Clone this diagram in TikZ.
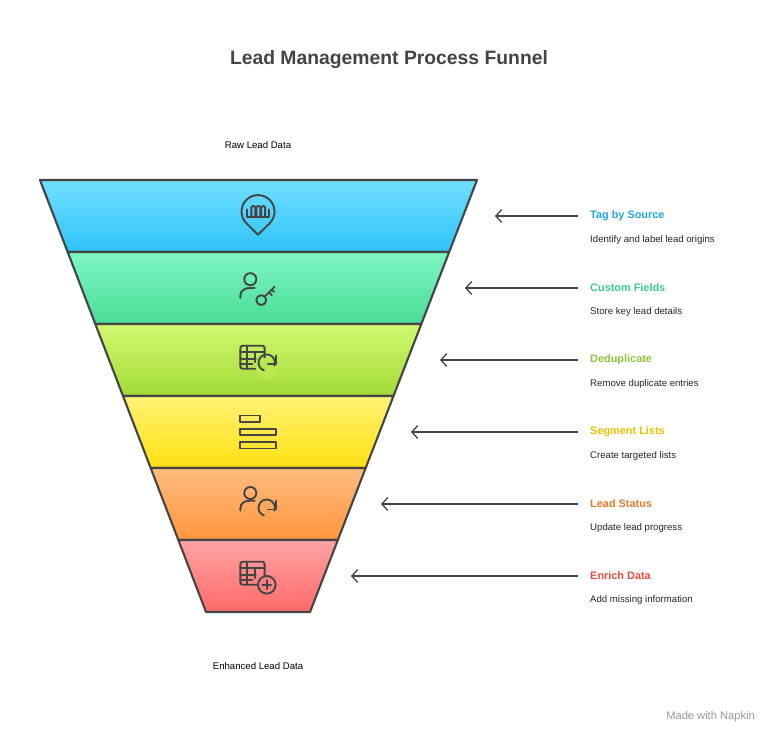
\documentclass[tikz,border=0pt]{standalone}
\usepackage{fontspec}
\setmainfont{Liberation Sans}
\usetikzlibrary{arrows.meta}
\definecolor{ink}{HTML}{444444}
\definecolor{aT}{HTML}{72DEFF}\definecolor{aB}{HTML}{2EC3F8}\definecolor{aL}{HTML}{1EA8E0}
\definecolor{bT}{HTML}{7FF6C4}\definecolor{bB}{HTML}{48DC96}\definecolor{bL}{HTML}{3CC98A}
\definecolor{cT}{HTML}{D2F870}\definecolor{cB}{HTML}{A2DA36}\definecolor{cL}{HTML}{8DC43A}
\definecolor{dT}{HTML}{FFF277}\definecolor{dB}{HTML}{FFE012}\definecolor{dL}{HTML}{E2C400}
\definecolor{eT}{HTML}{FFBC80}\definecolor{eB}{HTML}{FF963E}\definecolor{eL}{HTML}{E87A2A}
\definecolor{fT}{HTML}{FFA3A3}\definecolor{fB}{HTML}{FF6A6A}\definecolor{fL}{HTML}{E84E3E}
\tikzset{
  band/.style={draw=ink, line width=1.8pt, line join=round},
  icon/.style={draw=ink, line width=1.6pt, line cap=round, line join=round},
  pointer/.style={draw=ink, line width=1.1pt, -{Straight Barb[length=5pt,width=11pt]}},
  stage/.style={font=\bfseries\fontsize{9.3}{11}\selectfont, anchor=west, inner sep=0pt},
  note/.style={font=\fontsize{8.2}{10}\selectfont, color=black!85, anchor=west, inner sep=0pt}
}
\begin{document}
\begin{tikzpicture}[x=0.03cm, y=-0.03cm]
\useasboundingbox[fill=white] (0,0) rectangle (779,744);
%Titel
\node[font=\bfseries\fontsize{16.5}{19}\selectfont, color=ink] (title) at (389,60) {Lead Management Process Funnel};
\node[font=\fontsize{8.2}{10}\selectfont] (raw) at (258,145) {Raw Lead Data};
\node[font=\fontsize{8.2}{10}\selectfont] (enh) at (258,666) {Enhanced Lead Data};
\node[font=\fontsize{9.5}{11}\selectfont, color=black!40, anchor=east, inner sep=0pt] (napkin) at (755,717) {Made with Napkin};

%Trichter
\foreach \i/\c/\head/\name/\desc in {
  0/a/495/Tag by Source/Identify and label lead origins,
  1/b/465/Custom Fields/Store key lead details,
  2/c/440/Deduplicate/Remove duplicate entries,
  3/d/411/Segment Lists/Create targeted lists,
  4/e/381/Lead Status/Update lead progress,
  5/f/351/Enrich Data/Add missing information}{
  \pgfmathsetmacro{\yt}{180+72*\i}
  \pgfmathsetmacro{\yb}{252+72*\i}
  \pgfmathsetmacro{\ym}{216+72*\i}
  \shade[top color=\c T, bottom color=\c B]
    ({40+27.67*\i},\yt) -- ({477-27.83*\i},\yt) -- ({477-27.83*(\i+1)},\yb) -- ({40+27.67*(\i+1)},\yb) -- cycle;
  \draw[band] ({40+27.67*\i},\yt) -- ({477-27.83*\i},\yt) -- ({477-27.83*(\i+1)},\yb) -- ({40+27.67*(\i+1)},\yb) -- cycle;
  \node[stage, color=\c L] (s\i) at (590,\ym) {\name};
  \node[note] (d\i) at (590,\ym+24) {\desc};
  \coordinate (t\i) at (578,\ym);
  \coordinate (h\i) at (\head,\ym);
  \draw[pointer] (t\i) -- (h\i);
}

%Symbole
\begin{scope}[shift={(258,216)}, yscale=-1, scale=1.1]
  \draw[icon] (0,-17) -- (-10.6,-6.6) arc[start angle=225, end angle=-45, radius=15] -- cycle;
  \draw[icon] (-10,6) -- (-10,-1) -- (10,-1) -- (10,6);
  \foreach \bx in {-6,-1.5,3} \draw[icon, rounded corners=1pt] (\bx,-1) rectangle (\bx+3.5,9);
\end{scope}
\begin{scope}[shift={(258,288)}, yscale=-1, scale=1.1]
  \draw[icon] (-7,8) circle[radius=5.5];
  \draw[icon] (-16,-9) -- (-16,-7) .. controls (-16,-2) and (-12,0) .. (-7,0) -- (-3,0);
  \draw[icon] (3,-11) circle[radius=4.5];
  \draw[icon] (6.2,-7.8) -- (15,1) (10,-4) -- (12.5,-6.5) (12.5,-1.5) -- (14.5,-3.5);
\end{scope}
\begin{scope}[shift={(258,360)}, yscale=-1, scale=1.1]
  \draw[icon, rounded corners=2pt] (-16,13) rectangle (6,-8);
  \draw[icon] (-16,7) -- (6,7) (-16,1) -- (-2,1) (-16,-4) -- (-5,-4) (-10,13) -- (-10,-8) (-3,7) -- (-3,-2);
  \fill[cT!45!cB] (8,-8) circle[radius=10];
  \draw[icon] (15,-5) arc[start angle=-20, end angle=250, radius=7.5];
  \draw[icon] (16,4) -- (16,-4) -- (9,-4);
\end{scope}
\begin{scope}[shift={(258,432)}, yscale=-1, scale=1.1]
  \draw[icon] (-16,15) rectangle (2,9);
  \draw[icon] (-16,3) rectangle (16,-3);
  \draw[icon] (-16,-9) rectangle (16,-15);
\end{scope}
\begin{scope}[shift={(258,504)}, yscale=-1, scale=1.1]
  \draw[icon] (-7,10) circle[radius=5.5];
  \draw[icon] (-16,-6) -- (-16,-4) .. controls (-16,1) and (-12,3) .. (-7,3) -- (-3,3);
  \draw[icon] (15,-6) arc[start angle=-20, end angle=250, radius=7.5];
  \draw[icon] (16,3) -- (16,-5) -- (9,-5);
\end{scope}
\begin{scope}[shift={(258,576)}, yscale=-1, scale=1.1]
  \draw[icon, rounded corners=2pt] (-16,13) rectangle (6,-8);
  \draw[icon] (-16,7) -- (6,7) (-16,1) -- (-2,1) (-16,-4) -- (-5,-4) (-10,13) -- (-10,-8) (-3,7) -- (-3,-2);
  \filldraw[icon, fill=fT!40!fB] (8,-8) circle[radius=8];
  \draw[icon] (4,-8) -- (12,-8) (8,-12) -- (8,-4);
\end{scope}
\end{tikzpicture}
\end{document}
